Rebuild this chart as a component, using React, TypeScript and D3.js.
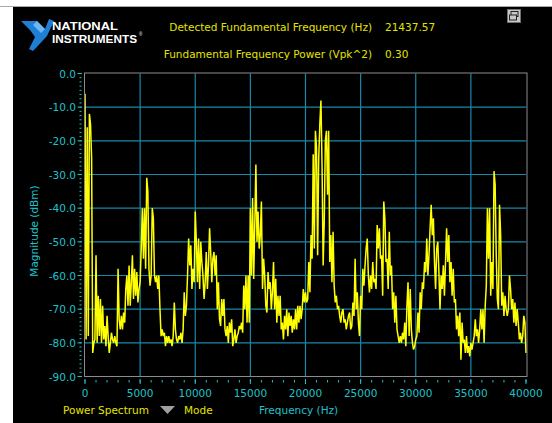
import React from "react";
import * as d3 from "d3";

// ---- data ----
const freqStepHz = 100; // spectrum bin spacing
const magnitudeDbm = [
  -6, -79, -16, -78, -12, -15, -25, -83, -80, -79,
  -54, -80, -66, -78, -67, -80, -69, -79, -75, -81,
  -72, -78, -83, -80, -77, -79, -80, -78, -80, -81,
  -58, -73, -76, -72, -76, -71, -74, -64, -60, -69,
  -57, -69, -62, -54, -67, -58, -66, -59, -68, -64,
  -62, -52, -40, -55, -40, -58, -31, -35, -58, -63,
  -60, -40, -43, -60, -62, -60, -64, -60, -70, -78,
  -76, -78, -77, -81, -78, -80, -78, -80, -79, -81,
  -78, -68, -76, -79, -80, -78, -79, -77, -80, -76,
  -65, -72, -69, -60, -49, -57, -51, -64, -58, -62,
  -41, -50, -62, -49, -64, -50, -56, -60, -67, -62,
  -53, -64, -57, -46, -53, -62, -55, -53, -60, -54,
  -70, -62, -73, -75, -67, -72, -67, -76, -78, -75,
  -80, -74, -77, -73, -81, -79, -76, -80, -78, -77,
  -75, -76, -74, -77, -63, -70, -60, -74, -60, -74,
  -40, -60, -37, -61, -45, -27, -50, -41, -52, -48,
  -38, -64, -55, -60, -69, -71, -59, -64, -62, -70,
  -65, -56, -70, -61, -74, -66, -72, -66, -76, -74,
  -79, -72, -76, -70, -78, -71, -75, -72, -77, -73,
  -76, -70, -76, -69, -74, -69, -73, -70, -64, -68,
  -65, -68, -67, -56, -65, -48, -55, -24, -52, -17,
  -22, -54, -25, -15, -8, -27, -57, -44, -20, -17,
  -36, -17, -56, -48, -62, -47, -63, -68, -66, -70,
  -69, -72, -74, -71, -70, -74, -73, -76, -74, -72,
  -71, -76, -75, -68, -72, -55, -70, -65, -74, -78,
  -66, -70, -58, -63, -57, -52, -49, -60, -65, -60,
  -64, -56, -62, -61, -64, -45, -52, -46, -55, -54,
  -66, -38, -43, -56, -55, -64, -47, -60, -57, -70,
  -65, -74, -66, -76, -78, -80, -78, -80, -77, -79,
  -74, -81, -69, -62, -78, -64, -76, -80, -82, -81,
  -79, -78, -71, -77, -65, -70, -62, -64, -56, -59,
  -49, -60, -54, -46, -39, -48, -43, -56, -64, -52,
  -50, -59, -70, -60, -64, -57, -66, -56, -46, -56,
  -48, -62, -56, -66, -58, -68, -67, -76, -72, -78,
  -71, -85, -74, -80, -79, -83, -78, -83, -81, -84,
  -80, -82, -80, -78, -73, -78, -76, -80, -76, -70,
  -76, -70, -80, -69, -63, -40, -55, -40, -66, -56,
  -64, -29, -33, -54, -67, -70, -39, -48, -69, -65,
  -72, -66, -70, -72, -70, -60, -64, -70, -67, -74,
  -68, -75, -70, -74, -79, -77, -80, -78, -72, -74,
  -83,
];

const xTickValues = [0, 5000, 10000, 15000, 20000, 25000, 30000, 35000, 40000];
const yTickValues = [0, -10, -20, -30, -40, -50, -60, -70, -80, -90];

const headerLabels = ["Detected Fundamental Frequency (Hz)", "Fundamental Frequency Power (Vpk^2)"];
const headerValues = ["21437.57", "0.30"];

// ---- styles ----
const W = 552;
const H = 423;
const plot = { left: 85, right: 526, top: 73.5, bottom: 376.5 };
const CYAN = "#1fc2ca";
const GRID = "#1688aa";
const YELLOW_TXT = "#e4e400";
const FONT = "'DejaVu Sans', Verdana, sans-serif";
const LOGO_FONT = "'Liberation Sans', Arial, sans-serif";

export default function App() {
  const x = d3.scaleLinear().domain([0, 40000]).range([plot.left, plot.right]);
  const y = d3.scaleLinear().domain([0, -90]).range([plot.top, plot.bottom]);

  const points: [number, number][] = magnitudeDbm.map((v, i) => [i * freqStepHz, v]);
  const line = d3
    .line<[number, number]>()
    .x((d) => x(d[0]))
    .y((d) => y(d[1]));

  const xMinor = d3.range(0, 40001, 1000);
  const yMinor = d3.range(0, -90.01, -1.25);

  return (
    <svg
      width={W}
      height={H}
      style={{ position: "absolute", left: 0, top: 0, display: "block" }}
      fontFamily={FONT}
    >
      <rect x={0} y={0} width={W} height={H} fill="#ffffff" />
      <line x1={0} x2={W} y1={6.5} y2={6.5} stroke="#a8a8a8" />
      <rect x={13} y={7} width={W - 13} height={H - 7} fill="#000000" />

      {/* NI logo */}
      <g>
        <path d="M21,21 L37,21 L45,29 L49,19 L54,21 L47,36 L33,51 L29,49 L35,37 L30,30 Z" fill="#1f7fd4" />
        <path d="M37,21 L45,29 L41,33 L33,25 Z" fill="#6fb6f0" />
        <text x={52} y={29.5} fill="#ffffff" fontFamily={LOGO_FONT} fontWeight="bold" fontSize={11} textLength={66} lengthAdjust="spacingAndGlyphs">NATIONAL</text>
        <text x={52} y={42.5} fill="#ffffff" fontFamily={LOGO_FONT} fontWeight="bold" fontSize={11} textLength={85} lengthAdjust="spacingAndGlyphs">INSTRUMENTS</text>
        <text x={139} y={36} fill="#ffffff" fontFamily={LOGO_FONT} fontSize={4.5}>®</text>
      </g>

      {/* header indicators */}
      {headerLabels.map((lab, i) => (
        <g key={lab}>
          <text x={372} y={31 + i * 27} textAnchor="end" fill={YELLOW_TXT} fontSize={10.5}>{lab}</text>
          <text x={385} y={31 + i * 27} fill={YELLOW_TXT} fontSize={10.5}>{headerValues[i]}</text>
        </g>
      ))}

      {/* window icon top right */}
      <g>
        <rect x={507.5} y={9.5} width={13} height={13} fill="#c8c8c8" stroke="#707070" />
        <rect x={511} y={11.5} width={7} height={5} fill="none" stroke="#202020" />
        <rect x={509.5} y={15} width={7} height={5} fill="#c8c8c8" stroke="#202020" />
      </g>

      {/* plot background */}
      <rect x={plot.left} y={plot.top} width={plot.right - plot.left} height={plot.bottom - plot.top} fill="#000" />

      {/* grid */}
      {xTickValues.slice(1, -1).map((t) => (
        <line key={"gx" + t} x1={x(t)} x2={x(t)} y1={plot.top} y2={plot.bottom} stroke={GRID} strokeWidth={1.2} />
      ))}
      {yTickValues.slice(1, -1).map((t) => (
        <line key={"gy" + t} x1={plot.left} x2={plot.right} y1={y(t)} y2={y(t)} stroke={GRID} strokeWidth={1.2} />
      ))}

      {/* spectrum */}
      <path d={line(points) || ""} fill="none" stroke="#ffff00" strokeWidth={1.5} strokeLinejoin="miter" strokeMiterlimit={2} />

      {/* border */}
      <rect x={plot.left - 0.5} y={plot.top - 0.5} width={plot.right - plot.left + 1.5} height={plot.bottom - plot.top + 0.5} fill="none" stroke="#8c8c8c" />

      {/* y axis ticks */}
      {yMinor.map((t, i) => (
        <line key={"ym" + i} x1={79.5} x2={81.5} y1={y(t)} y2={y(t)} stroke={CYAN} />
      ))}
      {yTickValues.map((t) => (
        <g key={"yt" + t}>
          <line x1={77.5} x2={82} y1={y(t)} y2={y(t)} stroke={CYAN} />
          <text x={76} y={y(t) + 4} textAnchor="end" fill={CYAN} fontSize={10.5}>{t.toFixed(1)}</text>
        </g>
      ))}
      <text transform={`translate(38,${(plot.top + plot.bottom) / 2 + 6}) rotate(-90)`} textAnchor="middle" fill={CYAN} fontSize={10.5}>
        Magnitude (dBm)
      </text>

      {/* x axis ticks */}
      {xMinor.map((t) => (
        <line key={"xm" + t} x1={x(t)} x2={x(t)} y1={380} y2={382.5} stroke={CYAN} />
      ))}
      {xTickValues.map((t) => (
        <g key={"xt" + t}>
          <line x1={x(t)} x2={x(t)} y1={379} y2={384} stroke={CYAN} />
          <text x={x(t)} y={397} textAnchor="middle" fill={CYAN} fontSize={10.5}>{t}</text>
        </g>
      ))}

      {/* bottom labels */}
      <text x={63} y={414} fill={YELLOW_TXT} fontSize={10.5}>Power Spectrum</text>
      <path d="M160,406 L175,406 L167.5,414 Z" fill="#a0a0a0" />
      <text x={184} y={414} fill={YELLOW_TXT} fontSize={10.5}>Mode</text>
      <text x={259} y={414} fill={CYAN} fontSize={10.5}>Frequency (Hz)</text>
    </svg>
  );
}
